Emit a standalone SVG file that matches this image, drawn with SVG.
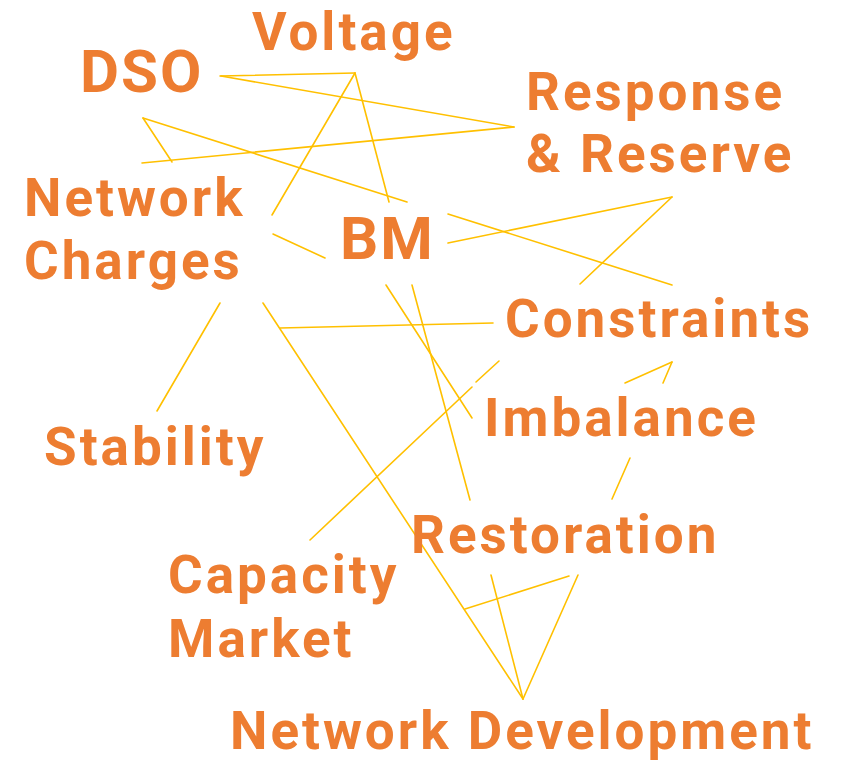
<svg xmlns="http://www.w3.org/2000/svg" width="846" height="762" viewBox="0 0 846 762">
<style>
.lbl{font-family:Roboto,"Liberation Sans",sans-serif;font-weight:700;fill:#ED7D31;font-size:53px;letter-spacing:3px}
.big{font-size:60px;letter-spacing:2px}
.c line{stroke:#FFC000;stroke-width:1.6;stroke-linecap:round}
</style>
<rect width="846" height="762" fill="#fff"/>
<g class="c" id="connectors">
<line x1="220" y1="76" x2="355" y2="73"/>
<line x1="221" y1="76" x2="514" y2="127"/>
<line x1="514" y1="127" x2="142" y2="163"/>
<line x1="143" y1="118" x2="172" y2="162"/>
<line x1="143" y1="118" x2="407" y2="202"/>
<line x1="448" y1="214" x2="672" y2="285"/>
<line x1="355" y1="73" x2="272" y2="215"/>
<line x1="355" y1="73" x2="389" y2="202"/>
<line x1="273" y1="234" x2="325" y2="258"/>
<line x1="448" y1="243" x2="672" y2="197"/>
<line x1="672" y1="197" x2="580" y2="284"/>
<line x1="220" y1="303" x2="157" y2="411"/>
<line x1="263" y1="303" x2="523" y2="699"/>
<line x1="280" y1="328" x2="493" y2="323"/>
<line x1="386" y1="285" x2="472" y2="418"/>
<line x1="412" y1="285" x2="470" y2="500"/>
<line x1="499" y1="361" x2="476" y2="382"/>
<line x1="472" y1="387" x2="310" y2="540"/>
<line x1="625" y1="383" x2="672" y2="362"/>
<line x1="672" y1="362" x2="663" y2="383"/>
<line x1="630" y1="458" x2="612" y2="499"/>
<line x1="491" y1="575" x2="523" y2="699"/>
<line x1="578" y1="575" x2="523" y2="699"/>
<line x1="569" y1="576" x2="465" y2="609"/>
</g>
<g id="dso"><text class="lbl big" x="80" y="92">DSO</text></g>
<g id="voltage"><text class="lbl" x="252" y="50">Voltage</text></g>
<g id="response"><text class="lbl" x="526" y="110">Response</text><text class="lbl" x="526" y="172">&amp; Reserve</text></g>
<g id="network-charges"><text class="lbl" x="24" y="216">Network</text><text class="lbl" x="24" y="279">Charges</text></g>
<g id="bm"><text class="lbl big" x="340" y="259">BM</text></g>
<g id="constraints"><text class="lbl" x="505" y="337">Constraints</text></g>
<g id="imbalance"><text class="lbl" x="484" y="436">Imbalance</text></g>
<g id="stability"><text class="lbl" x="44" y="465">Stability</text></g>
<g id="restoration"><text class="lbl" x="411" y="553">Restoration</text></g>
<g id="capacity-market"><text class="lbl" x="168" y="593">Capacity</text><text class="lbl" x="168" y="657">Market</text></g>
<g id="network-development"><text class="lbl" x="230" y="749">Network Development</text></g>
</svg>
